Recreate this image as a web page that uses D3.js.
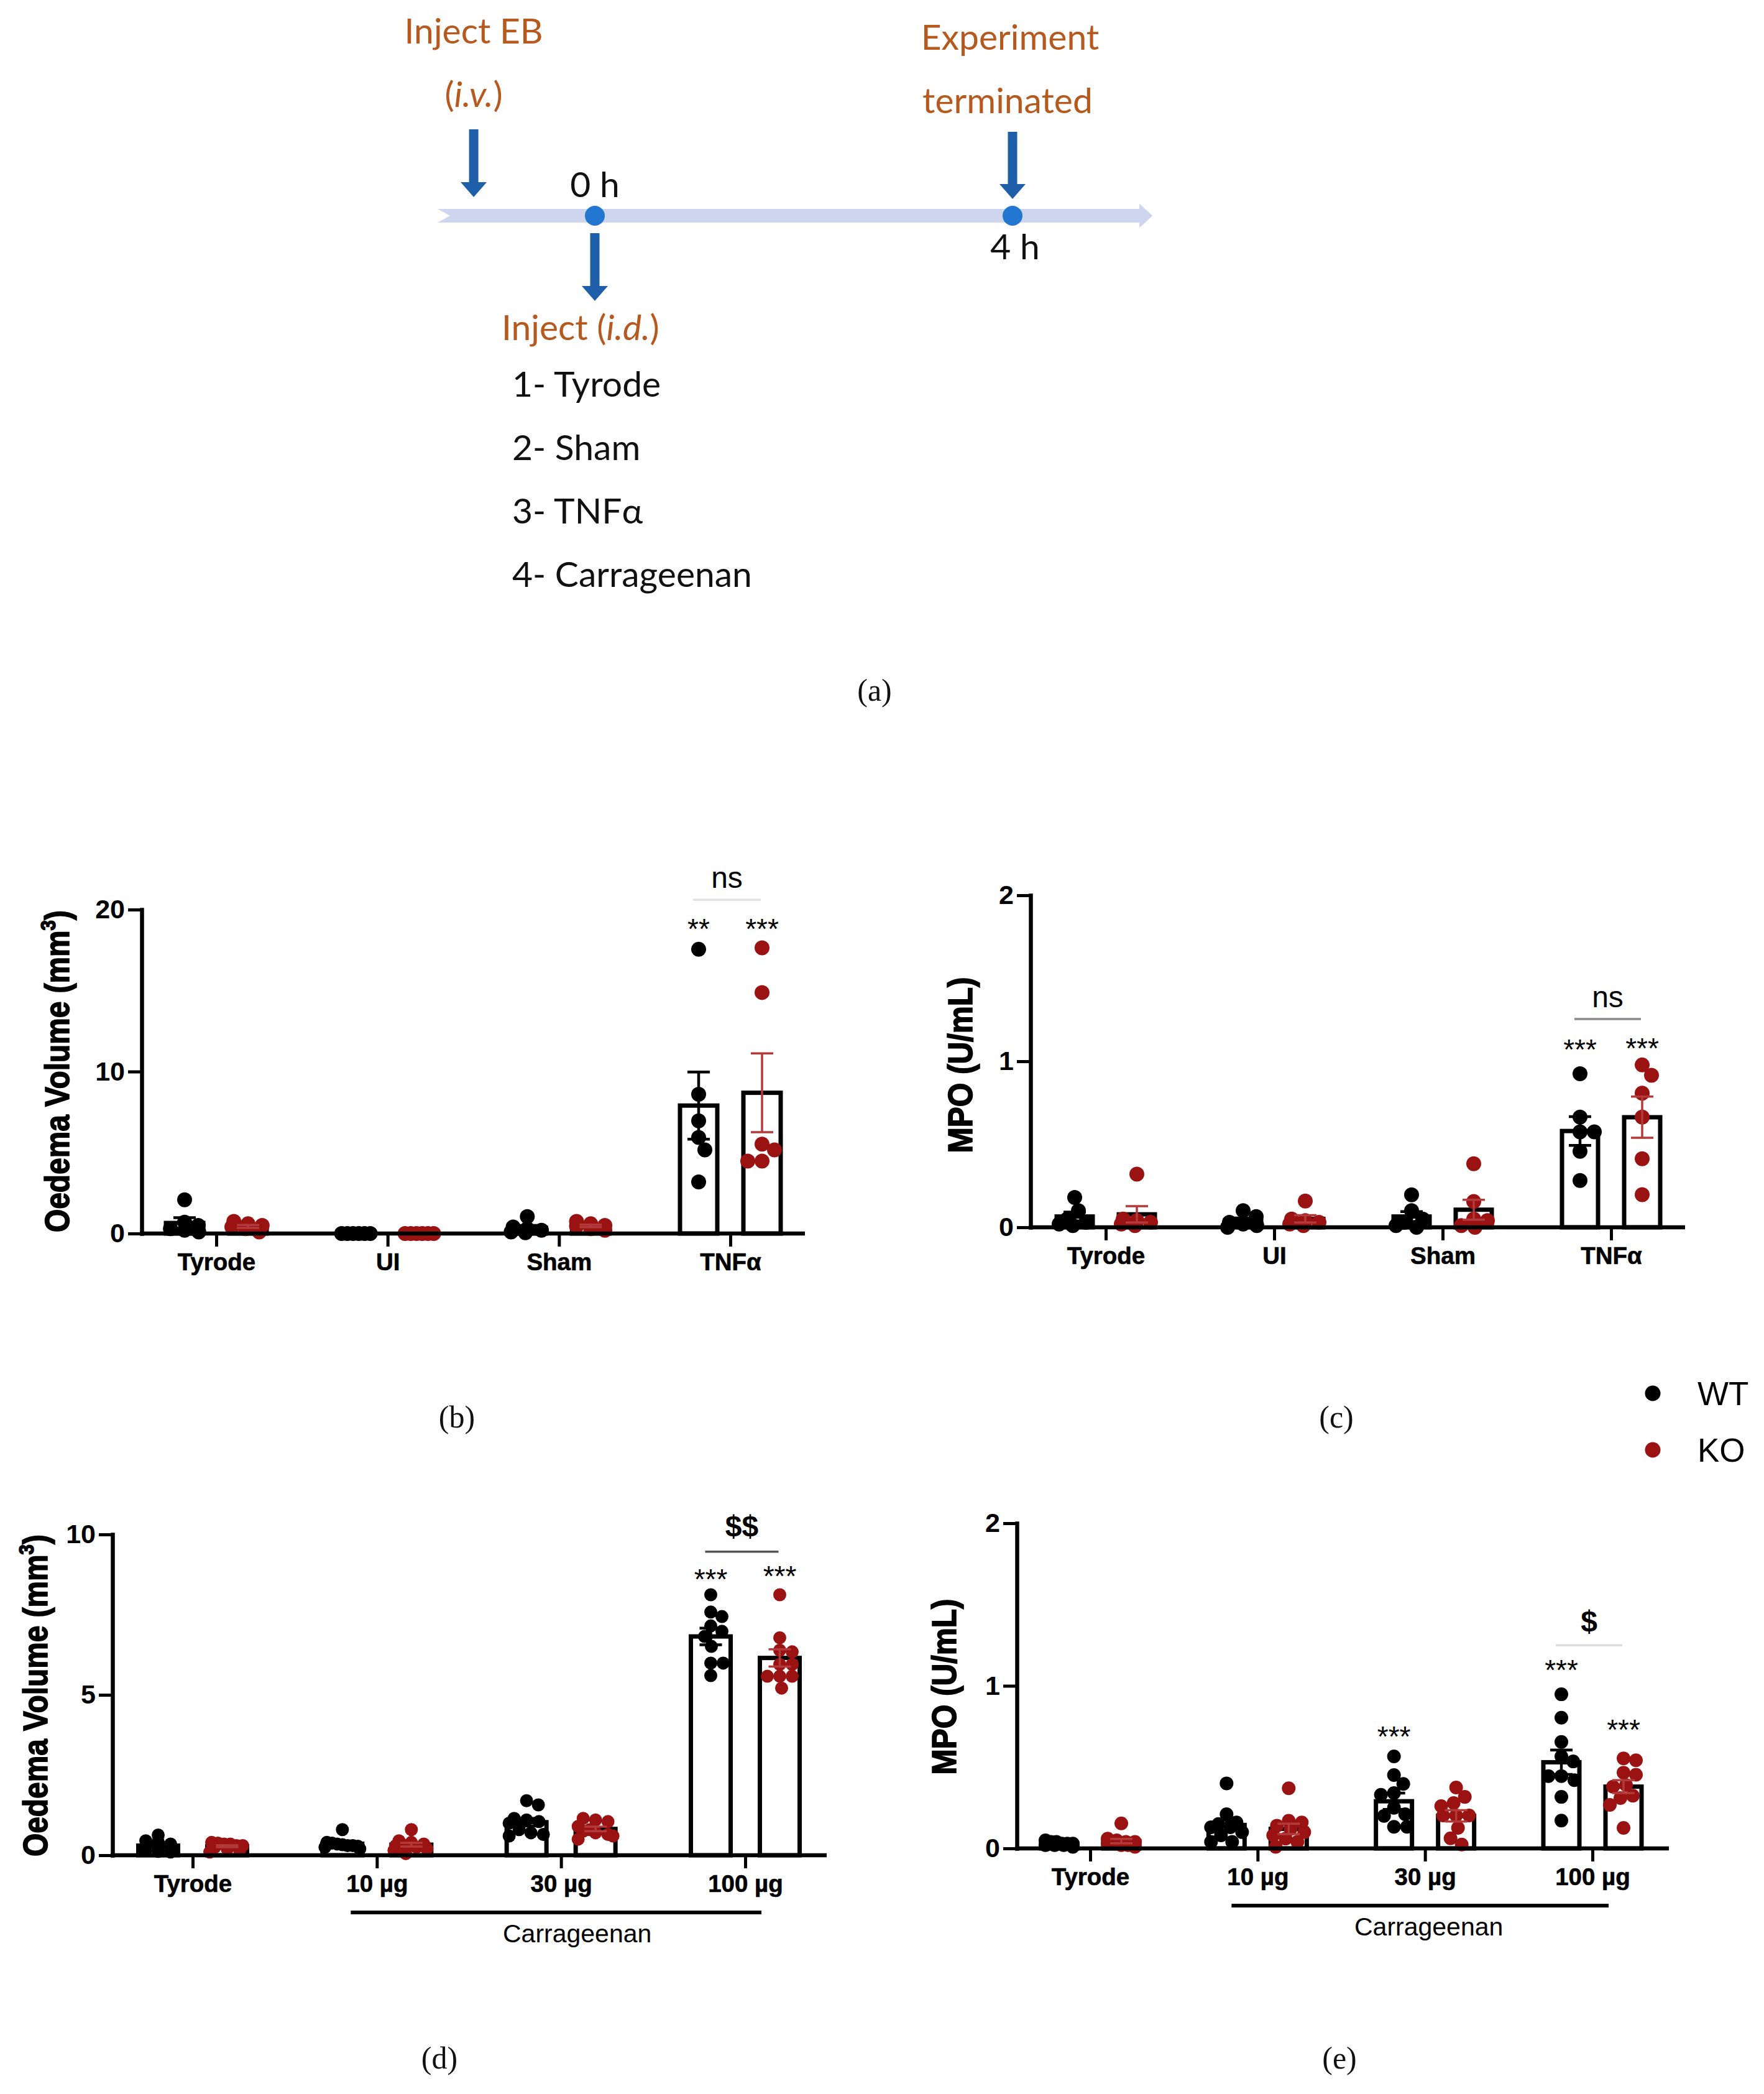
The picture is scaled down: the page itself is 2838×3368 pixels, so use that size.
<!DOCTYPE html>
<html><head><meta charset="utf-8">
<script src="https://cdn.jsdelivr.net/npm/d3@7"></script>
<style>body{margin:0;background:#fff} svg{display:block;background:#fff}</style>
</head><body>
<svg id="fig" width="2838" height="3368"></svg>
<script>
// ================= DATA =================
const stimCategories = ["Tyrode", "UI", "Sham", "TNFα"];
const doseCategories = ["Tyrode", "10 µg", "30 µg", "100 µg"];
const seriesNames = ["WT", "KO"];

// (b) Oedema volume (mm3), stimulus study
const oedemaStimWT = [[2.08,0.7,0.5,0.3,0.2,0.1],[0,0,0,0,0,0],[1.05,0.4,0.3,0.2,0.1,0.05],[17.55,8.6,6.96,5.93,5.16,3.19]];
const oedemaStimKO = [[0.75,0.6,0.5,0.4,0.3,0.1],[0,0,0,0,0,0],[0.75,0.6,0.5,0.45,0.3,0.2],[17.64,14.88,5.52,5.16,4.47,4.47]];
const oedemaStimWTMean = [0.65, 0, 0.35, 7.9];
const oedemaStimWTSem  = [0.33, 0, 0.15, 2.07];
const oedemaStimKOMean = [0.44, 0, 0.47, 8.69];
const oedemaStimKOSem  = [0.09, 0, 0.08, 2.43];

// (c) MPO (U/mL), stimulus study
const mpoStimWT = [[0.18,0.10,0.05,0.03,0.02,0.01],[0.10,0.065,0.03,0.02,0.01,0.0],[0.196,0.10,0.05,0.03,0.01,0.0],[0.925,0.664,0.575,0.575,0.458,0.282]];
const mpoStimKO = [[0.32,0.05,0.04,0.03,0.02,0.01],[0.158,0.05,0.04,0.03,0.02,0.01],[0.383,0.155,0.05,0.04,0.01,0.0],[0.978,0.916,0.808,0.664,0.413,0.197]];
const mpoStimWTMean = [0.065, 0.04, 0.065, 0.58];
const mpoStimWTSem  = [0.027, 0.016, 0.03, 0.087];
const mpoStimKOMean = [0.078, 0.051, 0.106, 0.663];
const mpoStimKOSem  = [0.049, 0.022, 0.06, 0.124];

// (d) Oedema volume (mm3), carrageenan dose study
const oedemaDoseWT = [[0.63,0.45,0.42,0.35,0.3,0.25,0.2,0.15,0.12,0.1],[0.8,0.4,0.38,0.35,0.33,0.3,0.3,0.28,0.25,0.2],[1.7,1.57,1.15,1.1,1.05,1.0,0.8,0.7,0.65,0.6],[8.12,7.58,7.44,7.15,6.98,6.82,6.51,5.99,5.99,5.60]];
const oedemaDoseKO = [[0.4,0.38,0.35,0.35,0.3,0.3,0.25,0.2,0.15,0.1],[0.8,0.45,0.4,0.35,0.3,0.3,0.25,0.2,0.15,0.05],[1.15,1.1,1.05,0.9,0.8,0.75,0.7,0.65,0.6,0.5],[8.12,6.78,6.39,6.34,5.95,5.95,5.58,5.58,5.58,5.21]];
const oedemaDoseWTMean = [0.3, 0.36, 1.03, 6.82];
const oedemaDoseWTSem  = [0.05, 0.05, 0.12, 0.26];
const oedemaDoseKOMean = [0.28, 0.33, 0.82, 6.15];
const oedemaDoseKOSem  = [0.03, 0.06, 0.07, 0.27];

// (e) MPO (U/mL), carrageenan dose study
const mpoDoseWT = [[0.05,0.04,0.04,0.03,0.03,0.03,0.02,0.02,0.02,0.01],[0.40,0.21,0.16,0.15,0.13,0.13,0.10,0.08,0.04,0.04],[0.566,0.451,0.397,0.34,0.33,0.25,0.21,0.2,0.133,0.133],[0.948,0.804,0.655,0.566,0.535,0.445,0.445,0.42,0.317,0.171]];
const mpoDoseKO = [[0.154,0.06,0.05,0.04,0.04,0.03,0.03,0.02,0.02,0.01],[0.37,0.17,0.16,0.14,0.12,0.1,0.08,0.06,0.04,0.01],[0.375,0.317,0.279,0.26,0.203,0.203,0.203,0.126,0.062,0.024],[0.554,0.542,0.466,0.453,0.39,0.38,0.324,0.31,0.268,0.126]];
const mpoDoseWTMean = [0.03, 0.144, 0.29, 0.53];
const mpoDoseWTSem  = [0.004, 0.032, 0.05, 0.075];
const mpoDoseKOMean = [0.045, 0.12, 0.2, 0.38];
const mpoDoseKOSem  = [0.013, 0.032, 0.035, 0.04];

// significance labels (value = data-unit height of label centre)
const sigStimOedema = [{cat:3, s:"WT", text:"**", v:19.2}, {cat:3, s:"KO", text:"***", v:19.2}];
const sigStimMpo    = [{cat:3, s:"WT", text:"***", v:1.11}, {cat:3, s:"KO", text:"***", v:1.115}];
const sigDoseOedema = [{cat:3, s:"WT", text:"***", v:8.8}, {cat:3, s:"KO", text:"***", v:8.9}];
const sigDoseMpo    = [{cat:2, s:"WT", text:"***", v:0.727}, {cat:3, s:"WT", text:"***", v:1.136}, {cat:3, s:"KO", text:"***", v:0.769}];
const cmpStimOedema = {cat:3, text:"ns", v:21.84, lineV:20.6};
const cmpStimMpo    = {cat:3, text:"ns", v:1.371, lineV:1.255};
const cmpDoseOedema = {cat:3, text:"$$", v:10.27, lineV:9.46};
const cmpDoseMpo    = {cat:3, text:"$", v:1.40, lineV:1.25};

// timeline (a)
const timeTicks = [0, 4];
const timeTickLabels = ["0 h", "4 h"];
const ebInjectTime = -1.16;
const injectList = ["1- Tyrode", "2- Sham", "3- TNFα", "4- Carrageenan"];
const panelLetters = ["(a)", "(b)", "(c)", "(d)", "(e)"];

// ================= STYLE =================
const WT_COL = "#000000", KO_COL = "#9b1212", KO_ERR = "#b33a3a";
const ORANGE = "#b5591f", ARROW = "#1f5fa9", BAND = "#cdd6ee", DOT = "#2477d0";
const SANS = "'Liberation Sans', Arial, sans-serif";
const TLFONT = "Lato, 'Open Sans', sans-serif";
const SERIF = "'Liberation Serif', 'Times New Roman', serif";

const svg = d3.select("#fig");
svg.append("rect").attr("width",2838).attr("height",3368).attr("fill","#fff");

// ================= TIMELINE (a) =================
(function drawTimeline(){
  const g = svg.append("g");
  const t = d3.scaleLinear([0, 4], [957, 1629]);
  const yb = 347, tStart = -1.506, tEnd = 5.34;
  const x0 = t(tStart), x1 = t(tEnd);
  const band = [[x0, yb-11],[x1-21, yb-11],[x1-21, yb-19.5],[x1, yb],[x1-21, yb+19.5],[x1-21, yb+11],[x0, yb+11],[x0+20, yb]];
  g.append("polygon").attr("points", band.map(p=>p.join(",")).join(" ")).attr("fill", BAND);

  function arrow(x, yTop, yTip){
    const sw=7.5, hw=21, hl=24;
    const pts = [[x-sw,yTop],[x+sw,yTop],[x+sw,yTip-hl],[x+hw,yTip-hl],[x,yTip],[x-hw,yTip-hl],[x-sw,yTip-hl]];
    g.append("polygon").attr("points", pts.map(p=>p.join(",")).join(" ")).attr("fill", ARROW);
  }
  arrow(t(ebInjectTime), 208, 317);
  arrow(t(timeTicks[0]), 375, 484);
  arrow(t(timeTicks[1]), 212, 320);

  g.selectAll("circle.tp").data(timeTicks).join("circle")
    .attr("cx", d=>t(d)).attr("cy", yb).attr("r", 16).attr("fill", DOT);

  const txt = (x, y, anchor, color) => g.append("text").attr("x", x).attr("y", y)
      .attr("text-anchor", anchor).attr("font-family", TLFONT).attr("font-size", 57).attr("fill", color);

  txt(t(timeTicks[0]), 317, "middle", "#111").text(timeTickLabels[0]);
  txt(t(timeTicks[1]) + 4, 417, "middle", "#111").text(timeTickLabels[1]);

  txt(t(ebInjectTime), 70, "middle", ORANGE).text("Inject EB");
  const iv = txt(t(ebInjectTime), 172, "middle", ORANGE);
  iv.append("tspan").text("(");
  iv.append("tspan").attr("font-style","italic").text("i.v.");
  iv.append("tspan").text(")");

  txt(t(timeTicks[1]) - 4, 80, "middle", ORANGE).text("Experiment");
  txt(t(timeTicks[1]) - 8, 182, "middle", ORANGE).text("terminated");

  const id = txt(807, 547, "start", ORANGE);
  id.append("tspan").text("Inject (");
  id.append("tspan").attr("font-style","italic").text("i.d.");
  id.append("tspan").text(")");

  g.selectAll("text.list").data(injectList).join("text")
    .attr("x", 824).attr("y", (d,i)=>638 + i*102)
    .attr("font-family", TLFONT).attr("font-size", 57).attr("fill", "#111").text(d=>d);
})();

// ================= BAR + SCATTER PANELS =================
function swarm(values, y, r, maxOff, rowMax){
  const pts = values.map(v=>({v, y:y(v)})).sort((a,b)=>b.v-a.v);
  const rows = [];
  pts.forEach(p=>{
    const last = rows[rows.length-1];
    if (last && Math.abs(p.y - last[0].y) < r*0.6) last.push(p); else rows.push([p]);
  });
  const placed = [], minD = 2*r*0.92;
  rows.forEach(row=>{
    if (row.length >= 3){
      const s = Math.min(2*r*0.95, 2*rowMax/(row.length-1));
      row.forEach((p,k)=>{ p.off = (k-(row.length-1)/2)*s; placed.push(p); });
    } else {
      row.forEach(p=>{
        let best = 0, bestCost = Infinity;
        for (let off=-maxOff; off<=maxOff; off+=1){
          let ov = 0;
          placed.forEach(q=>{ const d = Math.hypot(off-q.off, p.y-q.y); if (d<minD) ov += minD-d; });
          const cost = ov*1000 + Math.abs(off) + (off<0?0.1:0);
          if (cost < bestCost){ bestCost = cost; best = off; }
        }
        p.off = best; placed.push(p);
      });
    }
  });
  return placed;
}

function drawPanel(cfg){
  const g = svg.append("g");
  const y = d3.scaleLinear([0, cfg.yMax], [cfg.y0, cfg.yTop]);
  const x = d3.scalePoint(cfg.categories, [cfg.xFirst, cfg.xLast]);
  const off = {WT: -cfg.groupOff, KO: cfg.groupOff};
  const cx = (i, s) => x(cfg.categories[i]) + off[s];

  // bars
  cfg.series.forEach(s=>{
    g.append("g").selectAll("rect").data(s.mean).join("rect")
      .attr("x", (d,i)=>cx(i,s.name) - cfg.barW/2)
      .attr("y", d=>y(d)).attr("width", cfg.barW).attr("height", d=>y(0)-y(d))
      .attr("fill", "#fff").attr("stroke", "#000").attr("stroke-width", 7);
  });
  // dots
  cfg.series.forEach(s=>{
    const gg = g.append("g");
    s.points.forEach((vals, i)=>{
      const sw = swarm(vals, y, cfg.r, cfg.barW/2 - 4, cfg.barW/2 - 7);
      gg.selectAll(null).data(sw).join("circle")
        .attr("cx", d=>cx(i,s.name) + d.off).attr("cy", d=>d.y).attr("r", cfg.r)
        .attr("fill", s.name==="WT" ? WT_COL : KO_COL);
    });
  });
  // error bars
  cfg.series.forEach(s=>{
    const col = s.name==="WT" ? "#000" : KO_ERR;
    const w = s.name==="WT" ? 4.5 : 3.5;
    const eb = g.append("g").attr("stroke", col).attr("stroke-width", w);
    s.mean.forEach((m,i)=>{
      const e = s.sem[i]; if (!e) return;
      const xc = cx(i, s.name);
      eb.append("line").attr("x1",xc).attr("x2",xc).attr("y1",y(m-e)).attr("y2",y(m+e));
      [m-e, m+e].forEach(v=> eb.append("line").attr("x1",xc-18).attr("x2",xc+18).attr("y1",y(v)).attr("y2",y(v)));
    });
  });

  // x axis
  g.append("line").attr("x1", cfg.x0-3).attr("x2", cfg.xEnd).attr("y1", cfg.y0).attr("y2", cfg.y0)
    .attr("stroke","#000").attr("stroke-width", 6.5);
  const xa = g.append("g").attr("transform", `translate(0,${cfg.y0})`)
    .call(d3.axisBottom(x).tickSize(21).tickSizeOuter(0));
  xa.select(".domain").remove();
  xa.attr("font-family", SANS).attr("font-size", 38.5).attr("font-weight", "bold");
  xa.selectAll(".tick line").attr("stroke-width", 5);
  xa.selectAll(".tick text").attr("y", 32).attr("dy", "0.71em").attr("fill", "#000")
    .attr("stroke", "#000").attr("stroke-width", 0.6);

  // y axis
  const ya = g.append("g").attr("transform", `translate(${cfg.x0},0)`)
    .call(d3.axisLeft(y).tickValues(cfg.yTicks).tickFormat(d3.format("d")).tickSize(22).tickSizeOuter(0).tickPadding(5));
  ya.attr("font-family", SANS).attr("font-size", 43).attr("font-weight", "bold");
  ya.select(".domain").attr("stroke-width", 6.5).attr("stroke-linecap","square");
  ya.selectAll(".tick line").attr("stroke-width", 5);
  ya.selectAll(".tick text").attr("fill", "#000");

  // y title (glyphs slightly condensed along the text, as in the original)
  const tt = g.append("text").attr("transform", `translate(${cfg.titleX},${cfg.titleY}) rotate(-90) scale(${cfg.titleSqueeze},1)`)
    .attr("text-anchor","middle").attr("font-family", SANS).attr("font-size", 55).attr("font-weight","bold")
    .attr("stroke", "#000").attr("stroke-width", 1.6);
  cfg.title(tt);

  // significance stars
  g.selectAll(null).data(cfg.sig).join("text")
    .attr("x", d=>cx(d.cat, d.s)).attr("y", d=>y(d.v) + 26)
    .attr("text-anchor","middle").attr("font-family", SANS).attr("font-size", 46).text(d=>d.text);
  // comparison
  const c = cfg.cmp;
  const xa1 = cx(c.cat,"WT") - 9, xa2 = cx(c.cat,"KO") - 2;
  g.append("line").attr("x1", xa1).attr("x2", xa2).attr("y1", y(c.lineV)).attr("y2", y(c.lineV))
    .attr("stroke", cfg.cmpLine).attr("stroke-width", 3.5);
  g.append("text").attr("x", (xa1+xa2)/2).attr("y", y(c.v) + (cfg.cmpBold ? 17 : 12.5))
    .attr("text-anchor","middle").attr("font-family", SANS).attr("font-size", 48)
    .attr("font-weight", cfg.cmpBold ? "bold" : "normal").text(c.text);

  // carrageenan group line
  if (cfg.group){
    g.append("line").attr("x1", x(cfg.categories[1]) - 42).attr("x2", x(cfg.categories[3]) + 26)
      .attr("y1", cfg.y0 + 92).attr("y2", cfg.y0 + 92).attr("stroke","#000").attr("stroke-width", 6);
    g.append("text").attr("x", x(cfg.categories[2]) + cfg.groupDx).attr("y", cfg.y0 + 140)
      .attr("text-anchor","middle").attr("font-family", SANS).attr("font-size", 41).text(cfg.group);
  }
}

const oedemaTitle = t => { t.append("tspan").text("Oedema Volume (mm"); t.append("tspan").attr("font-size",34).attr("dy",-22).text("3"); t.append("tspan").attr("dy",22).text(")"); };
const mpoTitle = t => t.text("MPO (U/mL)");

drawPanel({categories: stimCategories, x0:228, xEnd:1295, y0:1984, yTop:1463, yMax:20, yTicks:[0,10,20],
  xFirst:348, xLast:1175, groupOff:51, barW:60, r:12, titleX:111, titleY:1723, titleSqueeze:0.87, title:oedemaTitle,
  series:[{name:"WT", points:oedemaStimWT, mean:oedemaStimWTMean, sem:oedemaStimWTSem},
          {name:"KO", points:oedemaStimKO, mean:oedemaStimKOMean, sem:oedemaStimKOSem}],
  sig: sigStimOedema, cmp: cmpStimOedema, cmpLine:"#e2e2e2", cmpBold:false});

drawPanel({categories: stimCategories, x0:1658, xEnd:2711, y0:1974, yTop:1440, yMax:2, yTicks:[0,1,2],
  xFirst:1779, xLast:2592, groupOff:50, barW:58, r:12, titleX:1564, titleY:1713, titleSqueeze:0.9, title:mpoTitle,
  series:[{name:"WT", points:mpoStimWT, mean:mpoStimWTMean, sem:mpoStimWTSem},
          {name:"KO", points:mpoStimKO, mean:mpoStimKOMean, sem:mpoStimKOSem}],
  sig: sigStimMpo, cmp: cmpStimMpo, cmpLine:"#8a8a8a", cmpBold:false});

drawPanel({categories: doseCategories, x0:181, xEnd:1330, y0:2984, yTop:2468, yMax:10, yTicks:[0,5,10],
  xFirst:310, xLast:1199, groupOff:55.5, barW:64, r:10.5, titleX:76, titleY:2727, titleSqueeze:0.87, title:oedemaTitle,
  series:[{name:"WT", points:oedemaDoseWT, mean:oedemaDoseWTMean, sem:oedemaDoseWTSem},
          {name:"KO", points:oedemaDoseKO, mean:oedemaDoseKOMean, sem:oedemaDoseKOSem}],
  sig: sigDoseOedema, cmp: cmpDoseOedema, cmpLine:"#555", cmpBold:true, group:"Carrageenan", groupDx:26});

drawPanel({categories: doseCategories, x0:1636, xEnd:2685, y0:2973, yTop:2450, yMax:2, yTicks:[0,1,2],
  xFirst:1754, xLast:2562, groupOff:50, barW:58, r:11, titleX:1538, titleY:2713, titleSqueeze:0.9, title:mpoTitle,
  series:[{name:"WT", points:mpoDoseWT, mean:mpoDoseWTMean, sem:mpoDoseWTSem},
          {name:"KO", points:mpoDoseKO, mean:mpoDoseKOMean, sem:mpoDoseKOSem}],
  sig: sigDoseMpo, cmp: cmpDoseMpo, cmpLine:"#dcdcdc", cmpBold:true, group:"Carrageenan", groupDx:6});

// legend
const lg = svg.append("g");
lg.selectAll("circle").data(seriesNames).join("circle")
  .attr("cx", 2659).attr("cy", (d,i)=>2241 + i*91).attr("r", 12.5)
  .attr("fill", d=> d==="WT" ? WT_COL : KO_COL);
lg.selectAll("text").data(seriesNames).join("text")
  .attr("x", 2731).attr("y", (d,i)=>2260 + i*91)
  .attr("font-family", SANS).attr("font-size", 53).attr("fill","#000").text(d=>d);

// panel letters
const letterPos = [[1407,1127],[735,2296],[2150,2296],[707,3327],[2155,3327]];
svg.append("g").selectAll("text").data(panelLetters).join("text")
  .attr("x", (d,i)=>letterPos[i][0]).attr("y", (d,i)=>letterPos[i][1])
  .attr("text-anchor","middle").attr("font-family", SERIF).attr("font-size", 50).attr("fill","#111").text(d=>d);
</script>
</body></html>
